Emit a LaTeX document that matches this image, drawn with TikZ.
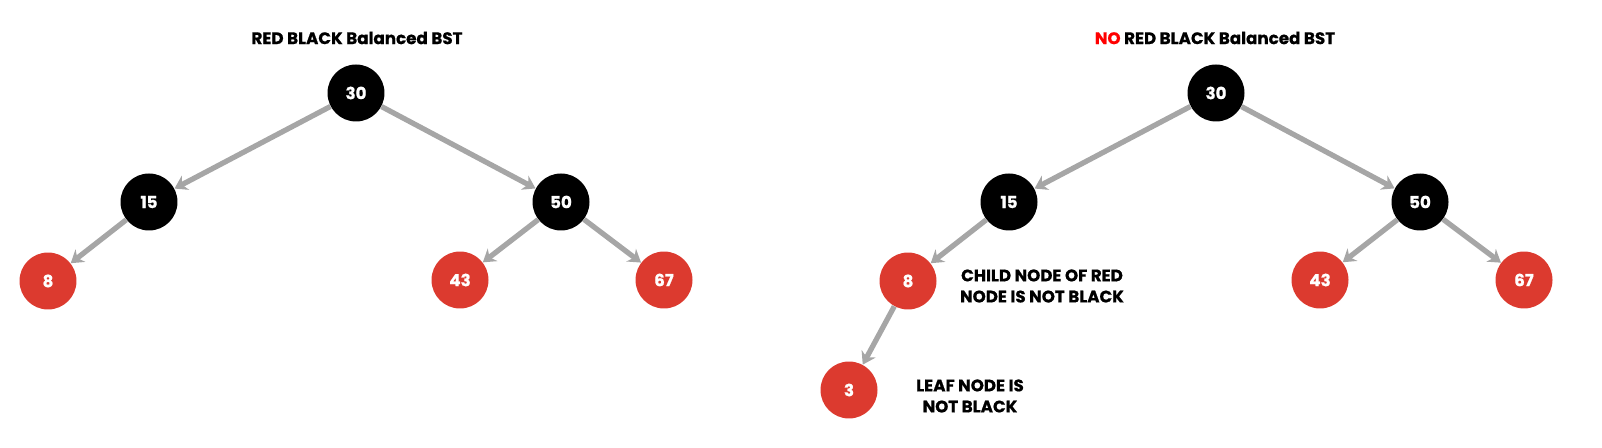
\documentclass[tikz,border=0pt]{standalone}
\usepackage{fontspec}
\setmainfont{Poppins}[BoldFeatures={FakeBold=0.8}]
\definecolor{nodered}{RGB}{220,58,47}
\definecolor{edgegray}{RGB}{166,166,166}
\definecolor{warnred}{RGB}{255,0,0}
\usetikzlibrary{arrows.meta}
\tikzset{
  treenode/.style={circle,minimum size=1.14cm,inner sep=0pt,text=white,font=\bfseries\fontsize{9.5}{10}\selectfont},
  blacknode/.style={treenode,fill=black},
  rednode/.style={treenode,fill=nodered},
  treeedge/.style={draw=edgegray,line width=3pt,-{Stealth[length=7pt,width=9pt]}},
  note/.style={font=\bfseries\fontsize{9.5}{12}\selectfont,align=center}
}

\begin{document}
\begin{tikzpicture}[x=0.02cm,y=-0.02cm]
  \useasboundingbox (0,0) rectangle (1602,448);

  % balanced tree
  \node[note] (ltitle) at (357,38) {RED BLACK Balanced BST};
  \node[blacknode] (l30) at (356,93) {30};
  \node[blacknode] (l15) at (149,202) {15};
  \node[blacknode] (l50) at (561,202) {50};
  \node[rednode] (l8) at (48,281) {8};
  \node[rednode] (l43) at (460,280) {43};
  \node[rednode] (l67) at (664,280) {67};
  \draw[treeedge] (l30) -- (l15);
  \draw[treeedge] (l30) -- (l50);
  \draw[treeedge] (l15) -- (l8);
  \draw[treeedge] (l50) -- (l43);
  \draw[treeedge] (l50) -- (l67);

  % broken tree
  \node[note] (rtitle) at (1215,38) {{\color{warnred}NO} RED BLACK Balanced BST};
  \node[blacknode] (r30) at (1216,93) {30};
  \node[blacknode] (r15) at (1009,202) {15};
  \node[blacknode] (r50) at (1420,202) {50};
  \node[rednode] (r8) at (908,281) {8};
  \node[rednode] (r3) at (849,390) {3};
  \node[rednode] (r43) at (1320,280) {43};
  \node[rednode] (r67) at (1524,280) {67};
  \draw[treeedge] (r30) -- (r15);
  \draw[treeedge] (r30) -- (r50);
  \draw[treeedge] (r15) -- (r8);
  \draw[treeedge] (r8) -- (r3);
  \draw[treeedge] (r50) -- (r43);
  \draw[treeedge] (r50) -- (r67);
  \node[note] (redchild) at (1042,286) {CHILD NODE OF RED\\NODE IS NOT BLACK};
  \node[note] (leafnote) at (970,396) {LEAF NODE IS\\NOT BLACK};
\end{tikzpicture}
\end{document}
